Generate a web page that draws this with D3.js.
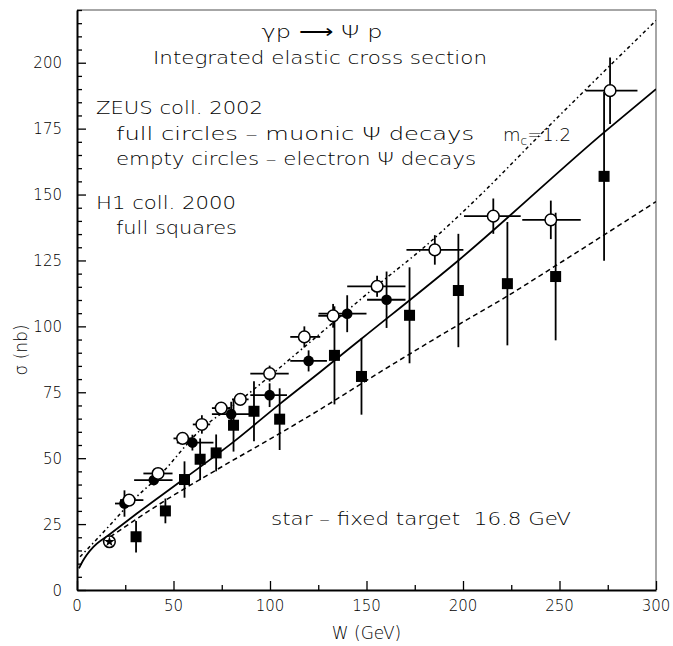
<!DOCTYPE html>
<html><head><meta charset="utf-8">
<script src="https://cdn.jsdelivr.net/npm/d3@7"></script>
<style>body{margin:0;background:#fff}svg{display:block}text{font-family:"DejaVu Sans",sans-serif;font-weight:300;fill:#000;white-space:pre}</style>
</head><body><svg id="c" width="673" height="646"></svg>
<script>
// ZEUS 2002, electron decays (empty circles)
const zeusE_W    = [27, 42, 54.7, 64.7, 74.7, 84.6, 99.8, 117.8, 132.7, 155.5, 185.4, 215.7, 245.5, 276.2];
const zeusE_sig  = [34.1, 44.2, 57.5, 62.8, 69, 72.3, 82.1, 96, 104, 115.2, 129, 141.8, 140.4, 189.4];
const zeusE_Wlo  = [22.3, 34.4, 50, 60, 69.9, 80.3, 89.8, 110.5, 125, 140, 170.7, 200.5, 230.7, 263.6];
const zeusE_Whi  = [34.4, 49.5, 59.5, 69, 79.4, 88.9, 109.7, 126, 140, 170.2, 200.2, 229.9, 261, 290.4];
const zeusE_err  = [2, 1.5, 1.5, 3.5, 2, 2, 3, 4, 4.5, 4, 5.6, 6.7, 7.3, 12.6];
// ZEUS 2002, muon decays (full circles)
const zeusM_W    = [24.6, 39.8, 59.8, 79.9, 99.8, 120, 140, 160.4];
const zeusM_sig  = [32.8, 41.7, 55.9, 66.7, 73.9, 86.9, 104.8, 110.1];
const zeusM_Wlo  = [19.7, 29.6, 51.7, 69.9, 89.8, 110.5, 125.2, 150.3];
const zeusM_Whi  = [29.5, 49.5, 70.7, 91.5, 108.8, 129.5, 150, 170.2];
const zeusM_err  = [5, 2, 3, 4.7, 4.5, 4, 7, 10.7];
// H1 2000 (full squares)
const h1_W   = [30.6, 45.8, 55.7, 63.8, 72.1, 81.1, 91.7, 105, 133.4, 147.4, 172.3, 197.6, 223, 248, 273.1];
const h1_sig = [20.2, 30, 41.9, 49.6, 52, 62.5, 67.8, 64.8, 89, 81, 104.2, 113.6, 116.2, 118.9, 156.9];
const h1_err = [6, 4.7, 6.9, 7.9, 7, 10, 11.4, 11.7, 18.6, 14.5, 18.2, 21.5, 23.4, 24.2, 32];
// fixed target point (star)
const star_W = [16.8];
const star_sig = [18.3];
// theory curves
const solid_W   = [1, 3, 5, 8.5, 16.3, 31, 55.7, 81.1, 105.3, 126, 147.4, 197.6, 273.1, 300];
const solid_sig = [8.2, 11, 13.3, 16.4, 20.8, 29, 42.3, 56.2, 70.7, 82.7, 95.3, 125, 173.6, 190];
const dashdot_W   = [1.6, 16.3, 27, 43, 63.8, 84.6, 117.8, 155.5, 181.4, 210, 237.7, 264.5, 300];
const dashdot_sig = [12.6, 24, 32.6, 43.6, 60.6, 72, 92.2, 115.5, 131, 150.5, 171, 190.5, 216];
const dashed_W   = [13.5, 30, 45.8, 72.1, 105.3, 126, 147.4, 172.3, 197.6, 223, 248, 300];
const dashed_sig = [18.3, 26.5, 34, 45.5, 59.5, 68.5, 78.3, 89.5, 100.6, 111.5, 123, 147.3];
// axis ticks
const xTicks = [0, 50, 100, 150, 200, 250, 300];
const yTicks = [0, 25, 50, 75, 100, 125, 150, 175, 200];

const svg = d3.select("#c");
const L = 77, R = 656, T = 10, B = 590;
const x = d3.scaleLinear().domain([0, 300]).range([L, R]);
const y = d3.scaleLinear().domain([0, 220]).range([B, T]);

// frame top/right
svg.append("line").attr("x1", L).attr("x2", R).attr("y1", T).attr("y2", T).attr("stroke", "#888").attr("stroke-width", 1.5);
svg.append("line").attr("x1", R).attr("x2", R).attr("y1", T).attr("y2", B).attr("stroke", "#888").attr("stroke-width", 1.5);

// axes
const xAxis = d3.axisBottom(x).tickValues(d3.range(0, 301, 25)).tickSize(0).tickFormat("");
const gx = svg.append("g").attr("transform", `translate(0,${B})`).call(xAxis);
gx.select(".domain").attr("stroke", "#000").attr("stroke-width", 2);
gx.selectAll(".tick line").attr("y2", d => d % 50 === 0 ? -9 : -5).attr("stroke", "#000").attr("stroke-width", 1.3);
svg.append("g").selectAll("text").data(xTicks).join("text")
  .attr("x", d => x(d)).attr("y", 611).attr("text-anchor", "middle").attr("font-size", 15).text(d => d);

const yAxis = d3.axisLeft(y).tickValues(d3.range(0, 221, 5)).tickSize(0).tickFormat("");
const gy = svg.append("g").attr("transform", `translate(${L},0)`).call(yAxis);
gy.select(".domain").attr("stroke", "#000").attr("stroke-width", 2);
gy.selectAll(".tick line").attr("x2", d => d % 25 === 0 ? 9 : 5).attr("stroke", "#000").attr("stroke-width", 1.3);
svg.append("g").selectAll("text").data(yTicks).join("text")
  .attr("x", 62).attr("y", d => y(d) + 5.5).attr("text-anchor", "end").attr("font-size", 15).text(d => d);

// axis titles
svg.append("text").attr("x", x(150)).attr("y", 639).attr("text-anchor", "middle").attr("font-size", 17).text("W (GeV)");
svg.append("text").attr("transform", "translate(27,350) rotate(-90)").attr("text-anchor", "middle").attr("font-size", 17).text("σ (nb)");

// curves
const line = d3.line().curve(d3.curveMonotoneX);
svg.append("defs").append("clipPath").attr("id", "pc").append("rect").attr("x", L).attr("y", T).attr("width", R - L).attr("height", B - T);
const cg = svg.append("g").attr("clip-path", "url(#pc)");
cg.append("path").attr("d", line(solid_W.map((w, i) => [x(w), y(solid_sig[i])])))
  .attr("fill", "none").attr("stroke", "#000").attr("stroke-width", 1.8);
cg.append("path").attr("d", line(dashdot_W.map((w, i) => [x(w), y(dashdot_sig[i])])))
  .attr("fill", "none").attr("stroke", "#000").attr("stroke-width", 1.5).attr("stroke-dasharray", "3.5,3,1.5,3");
cg.append("path").attr("d", line(dashed_W.map((w, i) => [x(w), y(dashed_sig[i])])))
  .attr("fill", "none").attr("stroke", "#000").attr("stroke-width", 1.5).attr("stroke-dasharray", "5,3.5");

const ew = 1.8;
// H1 squares
const h1 = h1_W.map((w, i) => ({w, s: h1_sig[i], e: h1_err[i]}));
const gh = svg.append("g");
gh.selectAll("line").data(h1).join("line")
  .attr("x1", d => x(d.w)).attr("x2", d => x(d.w)).attr("y1", d => y(d.s - d.e)).attr("y2", d => y(d.s + d.e))
  .attr("stroke", "#000").attr("stroke-width", ew);
gh.selectAll("rect").data(h1).join("rect")
  .attr("x", d => x(d.w) - 5.5).attr("y", d => y(d.s) - 5.5).attr("width", 11).attr("height", 11).attr("fill", "#000");

// ZEUS muon (full circles)
const zm = zeusM_W.map((w, i) => ({w, s: zeusM_sig[i], lo: zeusM_Wlo[i], hi: zeusM_Whi[i], e: zeusM_err[i]}));
const gm = svg.append("g");
gm.selectAll("line.v").data(zm).join("line").attr("class", "v")
  .attr("x1", d => x(d.w)).attr("x2", d => x(d.w)).attr("y1", d => y(d.s - d.e)).attr("y2", d => y(d.s + d.e))
  .attr("stroke", "#000").attr("stroke-width", ew);
gm.selectAll("line.h").data(zm).join("line").attr("class", "h")
  .attr("x1", d => x(d.lo)).attr("x2", d => x(d.hi)).attr("y1", d => y(d.s)).attr("y2", d => y(d.s))
  .attr("stroke", "#000").attr("stroke-width", ew);
gm.selectAll("circle").data(zm).join("circle")
  .attr("cx", d => x(d.w)).attr("cy", d => y(d.s)).attr("r", 5.3).attr("fill", "#000");

// ZEUS electron (empty circles)
const ze = zeusE_W.map((w, i) => ({w, s: zeusE_sig[i], lo: zeusE_Wlo[i], hi: zeusE_Whi[i], e: zeusE_err[i]}));
const ge = svg.append("g");
ge.selectAll("line.v").data(ze).join("line").attr("class", "v")
  .attr("x1", d => x(d.w)).attr("x2", d => x(d.w)).attr("y1", d => y(d.s - d.e)).attr("y2", d => y(d.s + d.e))
  .attr("stroke", "#000").attr("stroke-width", ew);
ge.selectAll("line.h").data(ze).join("line").attr("class", "h")
  .attr("x1", d => x(d.lo)).attr("x2", d => x(d.hi)).attr("y1", d => y(d.s)).attr("y2", d => y(d.s))
  .attr("stroke", "#000").attr("stroke-width", ew);
ge.selectAll("circle").data(ze).join("circle")
  .attr("cx", d => x(d.w)).attr("cy", d => y(d.s)).attr("r", 5.8).attr("fill", "#fff").attr("stroke", "#000").attr("stroke-width", 1.5);

// star point
const gs = svg.append("g");
gs.selectAll("circle").data(star_W).join("circle")
  .attr("cx", d => x(d)).attr("cy", (d, i) => y(star_sig[i])).attr("r", 5.8).attr("fill", "#fff").attr("stroke", "#000").attr("stroke-width", 1.5);
gs.selectAll("path").data(star_W).join("path")
  .attr("transform", (d, i) => `translate(${x(d)},${y(star_sig[i])})`)
  .attr("d", d3.symbol(d3.symbolStar, 34)).attr("fill", "#000");

// annotations
function txt(s, xx, yy, fs, len, anchor) {
  const t = svg.append("text").attr("x", xx).attr("y", yy).attr("font-size", fs).attr("text-anchor", anchor || "start").text(s);
  if (len) t.attr("textLength", len).attr("lengthAdjust", "spacingAndGlyphs");
  return t;
}
txt("γp ⟶ Ψ p", 322, 38, 18, 121, "middle");
txt("Integrated elastic cross section", 320, 64, 18, 334, "middle");
txt("ZEUS coll. 2002", 96, 114, 18, 167);
txt("full circles – muonic Ψ decays", 116, 140, 18, 358);
txt("empty circles – electron Ψ decays", 116, 165, 18, 360);
txt("H1 coll. 2000", 96, 209, 18, 140);
txt("full squares", 116, 234, 18, 121);
txt("star – fixed target  16.8 GeV", 271, 525, 18, 300);
const mc = svg.append("text").attr("x", 503).attr("y", 141).attr("font-size", 18);
mc.append("tspan").text("m");
mc.append("tspan").attr("font-size", 12).attr("dy", 4).text("c");
mc.append("tspan").attr("dy", -4).text("=1.2");
</script></body></html>
